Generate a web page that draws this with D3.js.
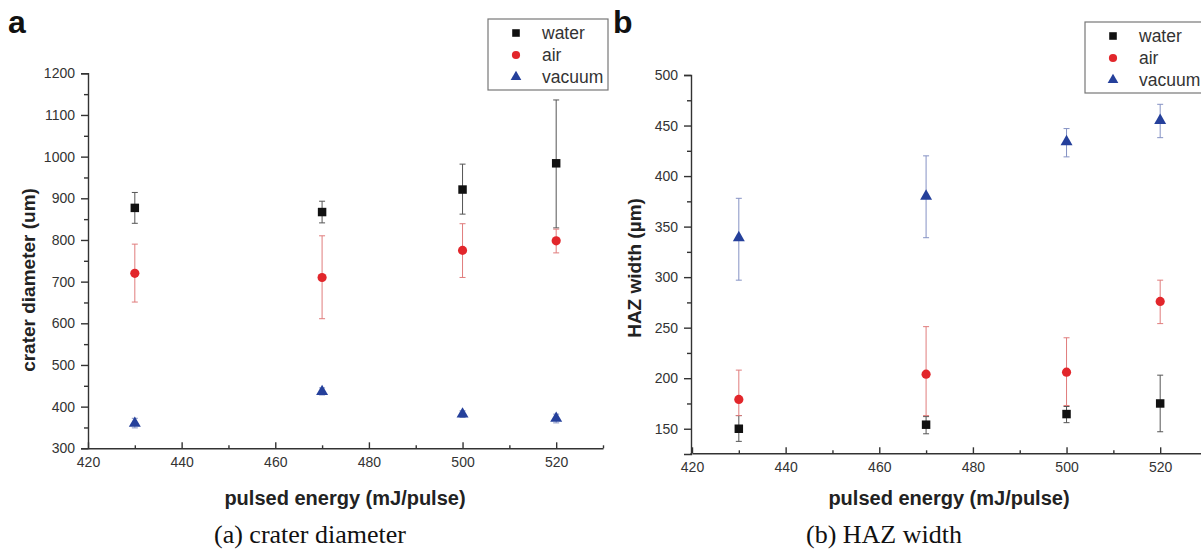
<!DOCTYPE html>
<html>
<head>
<meta charset="utf-8">
<script src="https://cdn.jsdelivr.net/npm/d3@7"></script>
<style>
  body { margin: 0; background: #fff; }
  svg { display: block; }
  .tick text { font-family: "Liberation Sans", Arial, sans-serif; font-size: 14px; fill: #333; }
  .domain, .tick line { stroke: #333; stroke-width: 1.4px; }
</style>
</head>
<body>
<div id="chart"></div>
<script>
// pulsed energy (mJ/pulse)
var energy = [430, 470, 500, 520];

// (a) crater diameter (um): value, lower and upper end of error bar
var craterWater = [877, 867, 921, 984];
var craterWaterLo = [840, 841, 862, 829];
var craterWaterHi = [914, 893, 982, 1136];
var craterAir = [720, 710, 775, 798];
var craterAirLo = [651, 611, 710, 769];
var craterAirHi = [790, 810, 839, 826];
var craterVacuum = [360, 436, 382, 372];
var craterVacuumLo = [349, 428, 374, 361];
var craterVacuumHi = [372, 445, 390, 382];

// (b) HAZ width (um)
var hazWater = [150, 154, 164.5, 175];
var hazWaterLo = [137.5, 145, 156, 147];
var hazWaterHi = [163, 162, 172, 203];
var hazAir = [179, 204, 206, 276];
var hazAirLo = [163, 163, 173, 254];
var hazAirHi = [208, 251, 240, 297];
var hazVacuum = [339, 380, 434, 455];
var hazVacuumLo = [297, 339, 419, 438];
var hazVacuumHi = [378, 420, 447, 471];

var seriesNames = ["water", "air", "vacuum"];
var xTicks = [420, 440, 460, 480, 500, 520];
var xMinor = [430, 450, 470, 490, 510, 530];
var craterTicks = d3.range(300, 1201, 100);
var craterMinor = d3.range(350, 1200, 100);
var hazTicks = d3.range(150, 501, 50);
var hazMinor = d3.range(175, 500, 50);

var markerFill = {water: "#111", air: "#e2262b", vacuum: "#25409b"};
var barColor = {water: "#555", air: "#e07c7c", vacuum: "#8592c4"};
var symbolOf = {water: d3.symbolSquare, air: d3.symbolCircle, vacuum: d3.symbolTriangle};
var symbolSize = {water: 72, air: 66, vacuum: 62};

var svg = d3.select("#chart").append("svg")
    .attr("width", 1201)
    .attr("height", 549);

function drawPanel(p) {
    var g = svg.append("g");

    var x = d3.scaleLinear().domain([420, 530]).range([p.left, p.left + 515]);
    var y = d3.scaleLinear().domain(p.yDomain).range([p.bottom, p.top]);

    // x axis, ticks pointing inwards
    g.append("g")
        .attr("transform", "translate(0," + p.axisY + ")")
        .call(d3.axisBottom(x).tickValues(xTicks).tickSizeInner(-6).tickSizeOuter(0).tickPadding(9).tickFormat(d3.format("d")));
    g.append("g")
        .attr("transform", "translate(0," + p.axisY + ")")
        .call(d3.axisBottom(x).tickValues(xMinor).tickSizeInner(-3).tickSizeOuter(0).tickFormat(""))
        .select(".domain").remove();

    // y axis
    g.append("g")
        .attr("transform", "translate(" + p.axisX + ",0)")
        .call(d3.axisLeft(y).tickValues(p.yTicks).tickSize(7).tickPadding(6).tickFormat(d3.format("d")));
    g.append("g")
        .attr("transform", "translate(" + p.axisX + ",0)")
        .call(d3.axisLeft(y).tickValues(p.yMinor).tickSize(4).tickFormat(""))
        .select(".domain").remove();
    // stretch the y axis line down to the x axis
    g.append("line")
        .attr("x1", p.axisX).attr("x2", p.axisX)
        .attr("y1", y(p.yDomain[0])).attr("y2", p.axisY)
        .attr("stroke", "#333").attr("stroke-width", 1.4);

    // error bars then markers
    seriesNames.forEach(function(name) {
        var s = p.series[name];
        var eb = g.append("g").attr("stroke", barColor[name]).attr("stroke-width", 1);
        energy.forEach(function(e, i) {
            var cx = x(e);
            eb.append("line").attr("x1", cx).attr("x2", cx).attr("y1", y(s.lo[i])).attr("y2", y(s.hi[i]));
            eb.append("line").attr("x1", cx - 3).attr("x2", cx + 3).attr("y1", y(s.lo[i])).attr("y2", y(s.lo[i]));
            eb.append("line").attr("x1", cx - 3).attr("x2", cx + 3).attr("y1", y(s.hi[i])).attr("y2", y(s.hi[i]));
        });
    });
    seriesNames.forEach(function(name) {
        var s = p.series[name];
        g.selectAll(".m-" + name)
            .data(s.v)
            .enter().append("path")
            .attr("class", "m-" + name)
            .attr("d", d3.symbol().type(symbolOf[name]).size(symbolSize[name]))
            .attr("transform", function(d, i) { return "translate(" + x(energy[i]) + "," + y(d) + ")"; })
            .attr("fill", markerFill[name]);
    });

    // legend
    var lg = g.append("g").attr("transform", "translate(" + p.legendX + "," + p.legendY + ")");
    lg.append("rect")
        .attr("width", 120).attr("height", 71)
        .attr("fill", "#fff").attr("stroke", "#777").attr("stroke-width", 1.2);
    seriesNames.forEach(function(name, i) {
        var ry = 14 + i * 22;
        lg.append("path")
            .attr("d", d3.symbol().type(symbolOf[name]).size(symbolSize[name] * 0.8))
            .attr("transform", "translate(28," + ry + ")")
            .attr("fill", markerFill[name]);
        lg.append("text")
            .attr("x", 54).attr("y", ry + 6)
            .attr("font-family", "Liberation Sans, Arial, sans-serif")
            .attr("font-size", 17.5).attr("fill", "#333")
            .text(name);
    });

    // axis titles
    g.append("text")
        .attr("x", p.left + 257).attr("y", 505)
        .attr("text-anchor", "middle")
        .attr("font-family", "Liberation Sans, Arial, sans-serif")
        .attr("font-size", 20).attr("font-weight", "bold").attr("fill", "#222")
        .text("pulsed energy (mJ/pulse)");
    g.append("text")
        .attr("transform", "translate(" + (p.yTitleX + 7) + "," + p.yTitleY + ") rotate(-90)")
        .attr("text-anchor", "middle")
        .attr("font-family", "Liberation Sans, Arial, sans-serif")
        .attr("font-size", 19).attr("font-weight", "bold").attr("fill", "#222")
        .text(p.yTitle);

    // panel letter
    g.append("text")
        .attr("x", p.letterX).attr("y", 33)
        .attr("font-family", "Liberation Sans, Arial, sans-serif")
        .attr("font-size", 32).attr("font-weight", "bold").attr("fill", "#111")
        .text(p.letter);

    // caption below
    g.append("text")
        .attr("x", p.captionX).attr("y", 543)
        .attr("text-anchor", "middle")
        .attr("font-family", "Liberation Serif, Times New Roman, serif")
        .attr("font-size", 26).attr("fill", "#111")
        .text(p.caption);
}

drawPanel({
    left: 88, axisX: 88, axisY: 448.3, top: 73.3, bottom: 448.3,
    yDomain: [300, 1200], yTicks: craterTicks, yMinor: craterMinor,
    series: {
        water: {v: craterWater, lo: craterWaterLo, hi: craterWaterHi},
        air: {v: craterAir, lo: craterAirLo, hi: craterAirHi},
        vacuum: {v: craterVacuum, lo: craterVacuumLo, hi: craterVacuumHi}
    },
    legendX: 488, legendY: 19,
    yTitle: "crater diameter (um)", yTitleX: 28, yTitleY: 280,
    letter: "a", letterX: 8,
    caption: "(a) crater diameter", captionX: 310
});

drawPanel({
    left: 692, axisX: 691, axisY: 453.3, top: 75, bottom: 454,
    yDomain: [125, 500], yTicks: hazTicks, yMinor: hazMinor,
    series: {
        water: {v: hazWater, lo: hazWaterLo, hi: hazWaterHi},
        air: {v: hazAir, lo: hazAirLo, hi: hazAirHi},
        vacuum: {v: hazVacuum, lo: hazVacuumLo, hi: hazVacuumHi}
    },
    legendX: 1085, legendY: 22,
    yTitle: "HAZ width (\u00b5m)", yTitleX: 634, yTitleY: 268,
    letter: "b", letterX: 613,
    caption: "(b) HAZ width", captionX: 884
});
</script>
</body>
</html>
